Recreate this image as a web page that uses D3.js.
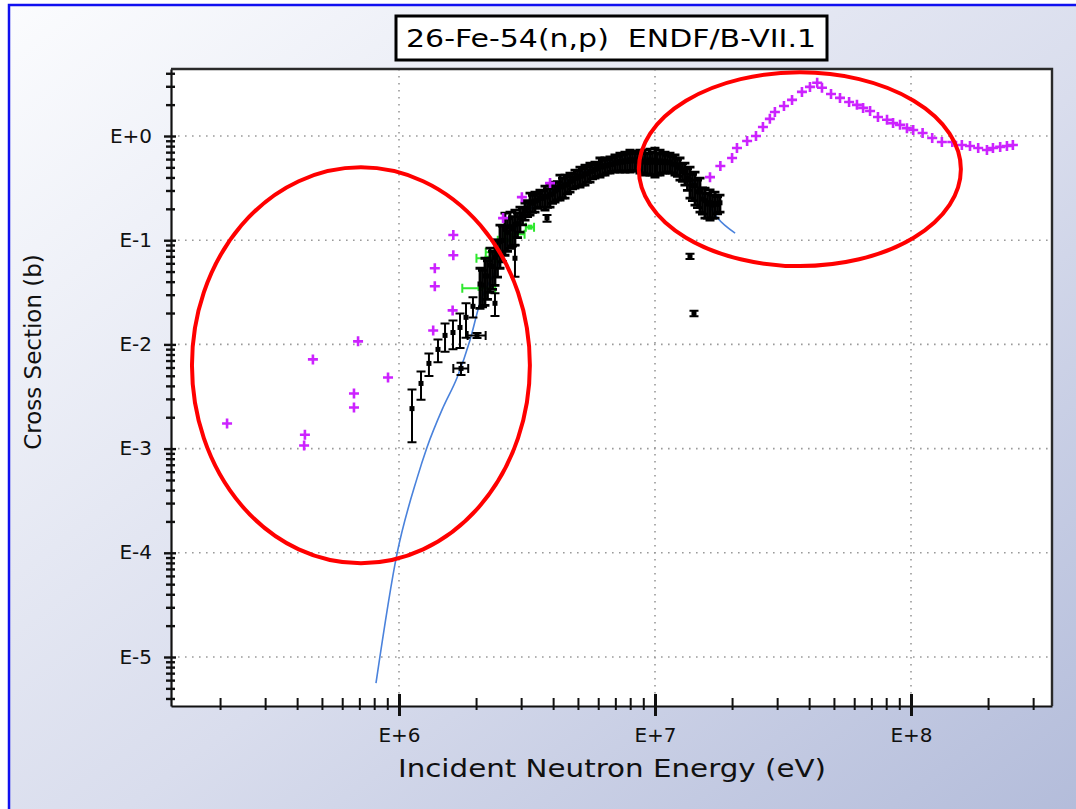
<!DOCTYPE html>
<html>
<head>
<meta charset="utf-8">
<script src="https://cdn.jsdelivr.net/npm/d3@7"></script>
<style>
  body { margin: 0; overflow: hidden; }
  svg { display: block; }
</style>
</head>
<body>
<svg id="chart" width="1076" height="809"></svg>
<script>
// ENDF/B-VII.1 evaluated cross section (blue line)
const endfE  = [8.13e5, 9.82e5, 1.175e6, 1.285e6, 1.486e6, 1.687e6, 1.892e6, 2.07e6, 2.415e6, 2.642e6,
                3.162e6, 4.256e6, 6.095e6, 8.73e6, 1.047e7, 1.309e7, 1.5e7, 1.746e7, 2.056e7];
const endfCS = [5.62e-6, 9.77e-5, 5.15e-4, 1.02e-3, 2.48e-3, 4.82e-3, 1.09e-2, 2.48e-2, 5.50e-2, 9.35e-2,
                0.182, 0.338, 0.526, 0.628, 0.588, 0.422, 0.303, 0.166, 0.117];

// other evaluation / library points (magenta crosses)
const magE  = [2.13e5, 4.26e5, 4.29e5, 4.61e5, 6.67e5, 6.67e5, 6.92e5, 9.06e5, 1.36e6, 1.62e6,
               1.38e6, 1.38e6, 1.63e6, 1.63e6, 2.55e6, 3.02e6, 3.89e6,
               1.64e7, 1.80e7, 2.00e7, 2.09e7, 2.29e7, 2.48e7, 2.64e7, 2.81e7, 2.94e7, 3.19e7,
               3.43e7, 3.75e7, 4.03e7, 4.30e7, 4.49e7, 4.87e7, 5.28e7, 5.73e7, 6.15e7, 6.50e7,
               6.92e7, 7.43e7, 8.06e7, 8.51e7, 9.06e7, 9.64e7, 1.02e8, 1.11e8, 1.21e8, 1.32e8,
               1.45e8, 1.58e8, 1.70e8, 1.83e8, 1.98e8, 2.09e8, 2.23e8, 2.37e8, 2.50e8];
const magCS = [1.74e-3, 1.07e-3, 1.36e-3, 7.18e-3, 2.48e-3, 3.38e-3, 1.07e-2, 4.82e-3, 1.36e-2, 2.12e-2,
               3.61e-2, 5.38e-2, 7.18e-2, 0.112, 0.163, 0.259, 0.353,
               0.403, 0.515, 0.614, 0.767, 0.895, 1.0, 1.22, 1.46, 1.70, 1.94,
               2.22, 2.65, 2.96, 3.24, 2.90, 2.53, 2.32, 2.12, 1.99, 1.86,
               1.74, 1.52, 1.43, 1.33, 1.28, 1.19, 1.14, 1.07, 0.957, 0.875,
               0.875, 0.819, 0.801, 0.767, 0.733, 0.767, 0.786, 0.801, 0.819];

// measurements, main band (black)
const exfE = [2.072e6, 2.167e6, 2.267e6, 2.371e6, 2.480e6, 2.594e6, 2.714e6, 2.838e6, 2.969e6, 3.106e6,
              3.249e6, 3.398e6, 3.554e6, 3.718e6, 3.889e6, 4.068e6, 4.255e6, 4.451e6, 4.655e6, 4.870e6,
              5.093e6, 5.328e6, 5.572e6, 5.829e6, 6.096e6, 6.377e6, 6.670e6, 6.977e6, 7.297e6, 7.633e6,
              7.984e6, 8.351e6, 8.735e6, 9.137e6, 9.557e6, 9.997e6, 1.046e7, 1.094e7, 1.144e7, 1.197e7,
              1.252e7, 1.309e7, 1.370e7, 1.433e7, 1.499e7, 1.568e7, 1.640e7, 1.715e7, 1.794e7];
const exfCS = [0.0380, 0.0454, 0.0577, 0.0685, 0.0966, 0.1268, 0.1348, 0.1419, 0.1635, 0.1913,
               0.2287, 0.2379, 0.2553, 0.2625, 0.2728, 0.2963, 0.3322, 0.3378, 0.3653, 0.3937,
               0.4133, 0.432, 0.4554, 0.4787, 0.5093, 0.5184, 0.5346, 0.5538, 0.5683, 0.5759,
               0.5918, 0.5889, 0.5869, 0.5775, 0.5857, 0.585, 0.5775, 0.571, 0.5633, 0.5395,
               0.4959, 0.4441, 0.3784, 0.3338, 0.2904, 0.2395, 0.2294, 0.2263, 0.2285];
const exfErr = [0.0158, 0.0217, 0.0261, 0.0316, 0.0428, 0.0551, 0.0511, 0.0524, 0.0441, 0.0356,
                0.0548, 0.0520, 0.0477, 0.0682, 0.0652, 0.0644, 0.0898, 0.0842, 0.0755, 0.0774,
                0.0900, 0.094, 0.0948, 0.0838, 0.1056, 0.0964, 0.0939, 0.1032, 0.1177, 0.1253,
                0.1412, 0.1282, 0.1462, 0.1555, 0.1637, 0.1813, 0.1555, 0.1303, 0.1226, 0.1175,
                0.1189, 0.1061, 0.1248, 0.1168, 0.1045, 0.0768, 0.0737, 0.0636, 0.0426];

// measurements, second set in the band (black)
const exf2E = [2.119e6, 2.216e6, 2.319e6, 2.425e6, 2.537e6, 2.653e6, 2.776e6, 2.903e6, 3.037e6, 3.177e6,
               3.323e6, 3.475e6, 3.635e6, 3.803e6, 3.978e6, 4.161e6, 4.352e6, 4.552e6, 4.761e6, 4.981e6,
               5.209e6, 5.449e6, 5.699e6, 5.962e6, 6.235e6, 6.522e6, 6.822e6, 7.136e6, 7.463e6, 7.807e6,
               8.166e6, 8.541e6, 8.934e6, 9.345e6, 9.775e6, 1.022e7, 1.070e7, 1.119e7, 1.170e7, 1.224e7,
               1.281e7, 1.339e7, 1.401e7, 1.466e7, 1.533e7, 1.604e7, 1.677e7, 1.755e7];
const exf2CS = [0.0371, 0.0453, 0.0559, 0.0725, 0.0995, 0.1194, 0.1283, 0.1441, 0.172, 0.204,
                0.2268, 0.2411, 0.2522, 0.2592, 0.2771, 0.3047, 0.3233, 0.3418, 0.3708, 0.3949,
                0.4128, 0.4339, 0.4581, 0.4843, 0.5032, 0.5173, 0.5348, 0.5502, 0.5595, 0.5686,
                0.5751, 0.5724, 0.5625, 0.5563, 0.5595, 0.5563, 0.5563, 0.5533, 0.5381, 0.5032,
                0.4554, 0.3928, 0.3343, 0.2915, 0.248, 0.2219, 0.217, 0.2207];
const exf2Err = [0.0142, 0.0182, 0.0221, 0.0283, 0.0374, 0.0413, 0.0403, 0.0382, 0.032, 0.0352,
                 0.0421, 0.0394, 0.0456, 0.0528, 0.0515, 0.0608, 0.0688, 0.0635, 0.0606, 0.0664,
                 0.0731, 0.0749, 0.071, 0.075, 0.0802, 0.0755, 0.0781, 0.0877, 0.0966, 0.1056,
                 0.1067, 0.109, 0.1197, 0.1229, 0.136, 0.133, 0.1133, 0.1005, 0.0954, 0.0936,
                 0.0888, 0.0922, 0.0947, 0.0864, 0.0702, 0.0589, 0.0539, 0.0421];

// single measurements (black), some with energy spread
const ptE   = [1.124e6, 1.219e6, 1.309e6, 1.420e6, 1.513e6, 1.625e6, 1.731e6, 1.827e6, 1.945e6, 2.371e6,
               2.838e6, 3.786e6, 1.370e7, 1.420e7, 1.747e6, 2.017e6];
const ptCS  = [0.00242, 0.00422, 0.00657, 0.00895, 0.0122, 0.0130, 0.01454, 0.01818, 0.0232, 0.0248,
               0.0671, 0.1627, 0.0701, 0.01986, 0.00588, 0.0122];
const ptErr = [0.00127, 0.00128, 0.0016, 0.0022, 0.0037, 0.0040, 0.0053, 0.0066, 0.0051, 0.0061,
               0.0224, 0.012, 0.004, 0.0012, 0.0008, 0.0007];
const ptDE  = [0, 0, 0, 0, 0, 0, 0, 0, 0, 0, 0, 0, 0, 0, 1.17e5, 1.63e5];

// measurements with energy resolution (green)
const grnE  = [2.072e6, 2.207e6, 2.329e6, 2.594e6, 2.838e6, 3.249e6];
const grnDE = [3.05e5, 2.0e5, 1.47e5, 1.63e5, 2.56e5, 1.2e5];
const grnCS = [0.0345, 0.0671, 0.0766, 0.1, 0.1142, 0.1334];

// hand-drawn red rings (centre in data units, radii in decades)
const ringE  = [7.1e5, 3.68e7];
const ringCS = [6.3e-3, 0.48];
const ringRx = [0.66, 0.629];
const ringRy = [1.90, 0.93];

const svg = d3.select('#chart');
const W = 1076, H = 809;
const box = { left: 171, right: 1052, top: 69, bottom: 706 };
const font = "'DejaVu Sans', Verdana, sans-serif";

// scales: E+6..E+8 and E-5..E+0 anchor positions, then widen to the frame
const x0 = d3.scaleLog().domain([1e6, 1e8]).range([399, 911]);
const y0 = d3.scaleLog().domain([1e-5, 1]).range([657, 136]);
const x = d3.scaleLog().domain([x0.invert(box.left), x0.invert(box.right)]).range([box.left, box.right]);
const y = d3.scaleLog().domain([y0.invert(box.bottom), y0.invert(box.top)]).range([box.bottom, box.top]);
const isMajor = d => Math.abs(Math.log10(d) - Math.round(Math.log10(d))) < 1e-6;
const expLabel = d => { const e = Math.round(Math.log10(d)); return 'E' + (e < 0 ? '-' : '+') + Math.abs(e); };

// background
const defs = svg.append('defs');
const grad = defs.append('linearGradient').attr('id', 'bg')
    .attr('x1', 0).attr('y1', 0).attr('x2', 1).attr('y2', 1);
grad.append('stop').attr('offset', '0%').attr('stop-color', '#fbfcfe');
grad.append('stop').attr('offset', '55%').attr('stop-color', '#d9dded');
grad.append('stop').attr('offset', '100%').attr('stop-color', '#b3bcda');
defs.append('clipPath').attr('id', 'clip').append('rect')
    .attr('x', box.left).attr('y', box.top)
    .attr('width', box.right - box.left).attr('height', box.bottom - box.top);

svg.append('rect').attr('width', W).attr('height', H).attr('fill', '#ffffff');
svg.append('rect').attr('x', 9).attr('y', 5).attr('width', W).attr('height', H)
    .attr('fill', 'url(#bg)').attr('stroke', '#1010f0').attr('stroke-width', 2.5);

// plot area
svg.append('rect').attr('x', box.left).attr('y', box.top)
    .attr('width', box.right - box.left).attr('height', box.bottom - box.top)
    .attr('fill', '#ffffff');

// dotted grid at the decades
const grid = svg.append('g').attr('stroke', '#9a9a9a').attr('stroke-width', 1.6)
    .attr('stroke-dasharray', '1.6,5.4');
grid.selectAll('line.gy').data(y.ticks().filter(isMajor)).join('line').attr('class', 'gy')
    .attr('x1', box.left).attr('x2', box.right).attr('y1', d => y(d)).attr('y2', d => y(d));
grid.selectAll('line.gx').data(x.ticks().filter(isMajor)).join('line').attr('class', 'gx')
    .attr('y1', box.top).attr('y2', box.bottom).attr('x1', d => x(d)).attr('x2', d => x(d));

// data layer
const data = svg.append('g').attr('clip-path', 'url(#clip)');

data.append('path')
    .datum(endfE.map((e, i) => [e, endfCS[i]]))
    .attr('fill', 'none').attr('stroke', '#4a82dc').attr('stroke-width', 1.6)
    .attr('d', d3.line().x(d => x(d[0])).y(d => y(d[1])).curve(d3.curveMonotoneX));

function errorSet(E, CS, dCS, dE, color, sw) {
    const pts = E.map((e, i) => ({ e, cs: CS[i], d: dCS ? dCS[i] : 0, de: dE ? dE[i] : 0 }));
    const g = data.append('g').attr('stroke', color).attr('stroke-width', sw).attr('fill', 'none');
    const sel = g.selectAll('g').data(pts).join('g');
    sel.filter(p => p.d > 0).append('path').attr('d', p => {
        const cx = x(p.e), y1 = y(Math.max(p.cs - p.d, 1e-7)), y2 = y(p.cs + p.d);
        return `M${cx},${y1}V${y2}M${cx - 4.5},${y1}h9M${cx - 4.5},${y2}h9`;
    });
    sel.filter(p => p.de > 0).append('path').attr('d', p => {
        const cy = y(p.cs), x1 = x(p.e - p.de), x2 = x(p.e + p.de);
        return `M${x1},${cy}H${x2}M${x1},${cy - 4.5}v9M${x2},${cy - 4.5}v9`;
    });
    sel.append('rect').attr('x', p => x(p.e) - 2.5).attr('y', p => y(p.cs) - 2.5)
        .attr('width', 5).attr('height', 5).attr('fill', color).attr('stroke', 'none');
    return sel;
}

errorSet(grnE, grnCS, null, grnDE, '#2ee82e', 2);
errorSet(exfE, exfCS, exfErr, null, '#000000', 2.8);
errorSet(exf2E, exf2CS, exf2Err, null, '#000000', 2.8);
errorSet(ptE, ptCS, ptErr, ptDE, '#000000', 2);

data.append('g').attr('stroke', '#cc22ff').attr('stroke-width', 2.6).attr('fill', 'none')
    .selectAll('path').data(magE.map((e, i) => [e, magCS[i]])).join('path')
    .attr('d', d => `M${x(d[0]) - 5},${y(d[1])}h10M${x(d[0])},${y(d[1]) - 5}v10`);

// axes
const yAxis = svg.append('g').attr('transform', `translate(${box.left},0)`)
    .call(d3.axisLeft(y).tickValues(y.ticks()).tickSizeOuter(0).tickFormat(d => isMajor(d) ? expLabel(d) : ''));
yAxis.select('.domain').attr('stroke', '#111').attr('stroke-width', 2.2);
yAxis.selectAll('.tick line')
    .attr('x1', d => isMajor(d) ? -7 : -5).attr('x2', d => isMajor(d) ? 5 : 4)
    .attr('stroke', '#111').attr('stroke-width', 2.4);
yAxis.selectAll('.tick text')
    .attr('x', -19).attr('dy', 6).attr('font-family', font).attr('font-size', 20).attr('fill', '#111');

const xAxis = svg.append('g').attr('transform', `translate(0,${box.bottom})`)
    .call(d3.axisBottom(x).tickValues(x.ticks()).tickSizeOuter(0).tickFormat(d => isMajor(d) ? expLabel(d) : ''));
xAxis.select('.domain').attr('stroke', '#111').attr('stroke-width', 2.2);
xAxis.selectAll('.tick line')
    .attr('y1', d => isMajor(d) ? -12 : -8).attr('y2', d => isMajor(d) ? 10 : 4)
    .attr('stroke', '#111').attr('stroke-width', d => isMajor(d) ? 3 : 2);
xAxis.selectAll('.tick text')
    .attr('y', 36).attr('dy', 0).attr('font-family', font).attr('font-size', 20).attr('fill', '#111');

// top and right edges of the frame
svg.append('path').attr('d', `M${box.left},${box.top}H${box.right}V${box.bottom}`)
    .attr('fill', 'none').attr('stroke', '#2a2a2a').attr('stroke-width', 2.4);

// red rings
svg.append('g').selectAll('ellipse').data(ringE.map((e, i) => i)).join('ellipse')
    .attr('cx', i => x(ringE[i])).attr('cy', i => y(ringCS[i]))
    .attr('rx', i => x(ringE[i] * Math.pow(10, ringRx[i])) - x(ringE[i]))
    .attr('ry', i => y(ringCS[i]) - y(ringCS[i] * Math.pow(10, ringRy[i])))
    .attr('fill', 'none').attr('stroke', '#ff0000').attr('stroke-width', 4);

// title box
svg.append('rect').attr('x', 396).attr('y', 16).attr('width', 431).attr('height', 44)
    .attr('fill', '#ffffff').attr('stroke', '#000').attr('stroke-width', 3);
svg.append('text').attr('x', 611).attr('y', 47).attr('text-anchor', 'middle')
    .attr('font-family', font).attr('font-size', 24).style('white-space', 'pre')
    .attr('textLength', 410).attr('lengthAdjust', 'spacingAndGlyphs')
    .text('26-Fe-54(n,p)  ENDF/B-VII.1');

// axis titles
svg.append('text').attr('x', 612).attr('y', 777).attr('text-anchor', 'middle')
    .attr('font-family', font).attr('font-size', 25).attr('fill', '#111')
    .attr('textLength', 428).attr('lengthAdjust', 'spacingAndGlyphs')
    .text('Incident Neutron Energy (eV)');
svg.append('text').attr('transform', 'translate(41,352) rotate(-90)').attr('text-anchor', 'middle')
    .attr('font-family', font).attr('font-size', 23).attr('fill', '#111')
    .text('Cross Section (b)');
</script>
</body>
</html>
